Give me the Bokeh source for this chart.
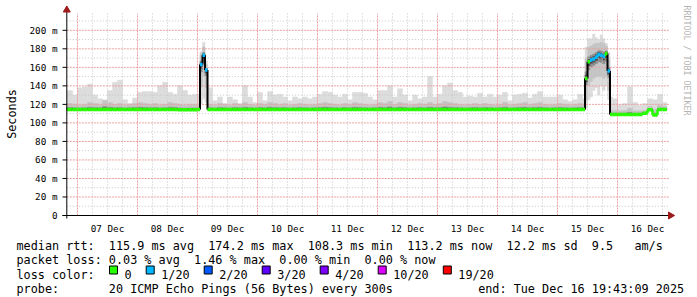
import numpy as np
from bokeh.plotting import figure
from bokeh.models import Range1d
from bokeh.core.properties import value
from bokeh.embed import file_html
from bokeh.resources import INLINE

# ---------------- data ----------------
# time in hours after 07 Dec 2025 00:00
T_START = -4.28    # Sat Dec 06 19:43:09
T_END = 235.72     # Tue Dec 16 19:43:09
bin_edges = np.r_[T_START, np.arange(-2, 48, 2), np.arange(48, 52, 1),
                  np.arange(52, 202, 2), np.arange(202, 214, 1),
                  np.arange(214, 236, 2), T_END]

# ms, one value per bin
rtt_max = [
    135, 130, 138, 139, 142, 130, 126, 125, 135, 144, 146, 125, 121, 127, 133, 134, 134, 133, 140, 144, 133, 131, 140, 135, 130, 131,
    131, 177, 187, 167,
    138, 124, 128, 121, 128, 125, 121, 140, 128, 122, 133, 124, 134, 130, 131, 128, 124, 128, 126, 128, 126,
    128, 131, 134, 133, 130, 128, 131, 125, 133, 133, 132, 128, 125, 135, 135, 140, 128, 137, 130, 124, 130, 126, 128, 150,
    128, 131, 140, 143, 135, 133, 128, 129, 128, 132, 128, 131, 128, 130, 133, 124, 130, 131, 132, 127, 131, 134, 128, 128,
    128, 130, 125, 123, 125, 131,
    126, 182, 191, 191, 196, 192, 190, 195, 191, 186, 176, 128,
    126, 120, 121, 139, 122, 119, 121, 126, 125, 131, 122,
]
rtt_hi = [
    121, 120, 119, 120, 122, 121, 120, 124, 122, 120, 121, 119, 120, 121, 122, 121, 120, 121, 119, 120, 122, 121, 120, 119, 120, 120,
    119, 175, 182, 163,
    120, 119, 121, 120, 119, 121, 120, 122, 120, 119, 121, 120, 122, 121, 120, 121, 119, 120, 121, 120, 119,
    120, 121, 122, 121, 120, 119, 121, 120, 122, 121, 120, 119, 120, 122, 121, 123, 120, 122, 121, 119, 120, 121, 120, 122,
    120, 121, 123, 122, 121, 120, 119, 120, 121, 120, 121, 120, 119, 120, 122, 119, 120, 121, 122, 120, 121, 122, 120, 119,
    120, 121, 120, 119, 120, 121,
    119, 170, 182, 183, 185, 186, 186, 187, 186, 183, 168, 114,
    113.5, 113, 113.5, 116, 113, 113, 113.5, 118, 115, 119, 118,
]
rtt_median = [
    114.5, 114.5, 114.5, 114.5, 114.5, 114.5, 114.5, 114.5, 114.5, 114.5, 114.5, 114.5, 114.5,
    114.5, 114.5, 114.5, 114.5, 114.5, 114.5, 114.5, 114.5, 114.5, 114.3, 114.2, 114.2, 114.2,
    114.5, 163, 173, 157,
    114.5, 114.5, 114.5, 114.5, 114.5, 114.5, 114.5, 114.5, 114.5, 114.5, 114.5, 114.5, 114.5, 114.5, 114.5,
    114.5, 114.5, 114.5, 114.5, 114.5, 114.5, 114.5, 114.5, 114.5, 114.5, 114.5, 114.5, 114.5, 114.5, 114.5,
    114.5, 114.5, 114.5, 114.5, 114.5, 114.5, 114.5, 114.5, 114.5, 114.5, 114.5, 114.5, 114.5, 114.5, 114.5,
    114.5, 114.5, 114.5, 114.5, 114.5, 114.5, 114.5, 114.5, 114.5, 114.5, 114.5, 114.5, 114.5, 114.5, 114.5,
    114.5, 114.5, 114.5, 114.5, 114.5, 114.5, 114.5, 114.5, 114.5, 114.5, 114.5, 114.5, 114.5, 114.5, 114.5,
    114.5, 148, 166, 168, 169, 171, 174, 173, 172, 175, 156, 109.2,
    109.2, 109.2, 109.2, 109.2, 109.2, 109.2, 110.5, 114.3, 108.5, 114.5, 114.5,
]
rtt_lo = [
    113.8, 113.8, 113.8, 113.8, 113.8, 113.8, 113.8, 113.8, 113.8, 113.8, 113.8, 113.8, 113.8,
    113.8, 113.8, 113.8, 113.8, 113.8, 113.8, 113.8, 113.8, 113.8, 113.6, 113.5, 113.5, 113.5,
    113.8, 139, 150, 138,
    113.8, 113.8, 113.8, 113.8, 113.8, 113.8, 113.8, 113.8, 113.8, 113.8, 113.8, 113.8, 113.8, 113.8, 113.8,
    113.8, 113.8, 113.8, 113.8, 113.8, 113.8, 113.8, 113.8, 113.8, 113.8, 113.8, 113.8, 113.8, 113.8, 113.8,
    113.8, 113.8, 113.8, 113.8, 113.8, 113.8, 113.8, 113.8, 113.8, 113.8, 113.8, 113.8, 113.8, 113.8, 113.8,
    113.8, 113.8, 113.8, 113.8, 113.8, 113.8, 113.8, 113.8, 113.8, 113.8, 113.8, 113.8, 113.8, 113.8, 113.8,
    113.8, 113.8, 113.8, 113.8, 113.8, 113.8, 113.8, 113.8, 113.8, 113.8, 113.8, 113.8, 113.8, 113.8, 113.8,
    113.8, 125, 140, 145, 148, 150, 150, 150, 148, 150, 135, 108.8,
    108.8, 108.8, 108.8, 108.8, 108.8, 108.8, 109.5, 113.6, 108.2, 113.8, 113.8,
]
rtt_min = [
    113.2, 113.2, 113.2, 113.2, 113.2, 113.2, 113.2, 113.2, 113.2, 113.2, 113.2, 113.2, 113.2,
    113.2, 113.2, 113.2, 113.2, 113.2, 113.2, 113.2, 113.2, 113.2, 113.0, 112.9, 112.9, 112.9,
    113.2, 121, 126, 122,
    113.2, 113.2, 113.2, 113.2, 113.2, 113.2, 113.2, 113.2, 113.2, 113.2, 113.2, 113.2, 113.2, 113.2, 113.2,
    113.2, 113.2, 113.2, 113.2, 113.2, 113.2, 113.2, 113.2, 113.2, 113.2, 113.2, 113.2, 113.2, 113.2, 113.2,
    113.2, 113.2, 113.2, 113.2, 113.2, 113.2, 113.2, 113.2, 113.2, 113.2, 113.2, 113.2, 113.2, 113.2, 113.2,
    113.2, 113.2, 113.2, 113.2, 113.2, 113.2, 113.2, 113.2, 113.2, 113.2, 113.2, 113.2, 113.2, 113.2, 113.2,
    113.2, 113.2, 113.2, 113.2, 113.2, 113.2, 113.2, 113.2, 113.2, 113.2, 113.2, 113.2, 113.2, 113.2, 113.2,
    113.2, 116, 125, 128, 135, 138, 130, 140, 135, 140, 125, 108.5,
    108.5, 108.5, 108.5, 108.5, 108.5, 108.5, 109, 113.2, 107.8, 113.2, 113.2,
]
# lost pings (of 20) per bin
loss = [
    0, 0, 0, 0, 0, 0, 0, 0, 0, 0, 0, 0, 0, 0, 0, 0, 0, 0, 0, 0, 0, 0, 0, 0, 0, 0,
    0, 1, 1, 1,
    0, 0, 0, 0, 0, 0, 0, 0, 0, 0, 0, 0, 0, 0, 0, 0, 0, 0, 0, 0, 0, 0, 0, 0, 0,
    0, 0, 0, 0, 0, 0, 0, 0, 0, 0, 0, 0, 0, 0, 0, 0, 0, 0, 0, 0, 0, 0, 0, 0, 0,
    0, 0, 0, 0, 0, 0, 0, 0, 0, 0, 0, 0, 0, 0, 0, 0, 0, 0, 0, 0, 0, 0, 0, 0, 0,
    0, 0, 0, 1, 1, 1, 1, 1, 1, 0, 1, 0,
    0, 0, 0, 0, 0, 0, 0, 0, 0, 0, 0,
]

day_ticks = [12, 36, 60, 84, 108, 132, 156, 180, 204, 228]
day_labels = ["07 Dec", "08 Dec", "09 Dec", "10 Dec", "11 Dec",
              "12 Dec", "13 Dec", "14 Dec", "15 Dec", "16 Dec"]
y_ticks = [0, 20, 40, 60, 80, 100, 120, 140, 160, 180, 200]
y_labels = ["0", "20 m", "40 m", "60 m", "80 m", "100 m",
            "120 m", "140 m", "160 m", "180 m", "200 m"]

loss_levels = ["0", "1/20", "2/20", "3/20", "4/20", "10/20", "19/20"]
loss_level_colors = ["#26ff00", "#00b8ff", "#0059ff", "#5e00ff", "#7e00ff", "#dd00ff", "#ff0000"]
loss_count_color = {0: "#26ff00", 1: "#00b8ff", 2: "#0059ff", 3: "#5e00ff",
                    4: "#7e00ff", 10: "#dd00ff", 19: "#ff0000"}

legend_lines = [
    "median rtt:  115.9 ms avg  174.2 ms max  108.3 ms min  113.2 ms now  12.2 ms sd  9.5   am/s",
    "packet loss: 0.03 % avg  1.46 % max  0.00 % min  0.00 % now",
    "loss color:",
    "probe:       20 ICMP Echo Pings (56 Bytes) every 300s            end: Tue Dec 16 19:43:09 2025",
]

# ---------------- layout (pixel <-> data) ----------------
W, H = 697, 297
PX_PER_H, X0_PX = 2.5, 77.0        # 07 Dec 00:00 at pixel 77
PX_PER_MS, Y0_PX = 0.926, 215.0    # 0 ms at pixel 215


def hx(px):
    return (px - X0_PX) / PX_PER_H


def vy(py):
    return (Y0_PX - py) / PX_PER_MS


MONO = "DejaVu Sans Mono"
NBSP = "\u00a0"
Y_TOP = vy(13)        # top of plotting area
X_RIGHT = hx(669)     # right end of horizontal grid

p = figure(width=W, height=H, x_range=Range1d(hx(0), hx(W)), y_range=Range1d(vy(H), vy(0)),
           output_backend="svg", toolbar_location=None, x_axis_type=None, y_axis_type=None,
           min_border=0, background_fill_color="white", border_fill_color="white")
p.outline_line_color = None
p.grid.visible = False

left = bin_edges[:-1]
right = bin_edges[1:]
med = np.array(rtt_median, dtype=float)
lo = np.array(rtt_lo, dtype=float)
hi = np.array(rtt_hi, dtype=float)

# smoke layers (light -> dark)
p.quad(left=left, right=right, bottom=rtt_min, top=rtt_max,
       fill_color="#dcdcdc", line_color="#dcdcdc", line_width=0.5)
p.quad(left=left, right=right, bottom=lo, top=hi,
       fill_color="#c4c4c4", line_color="#c4c4c4", line_width=0.5)
p.quad(left=left, right=right, bottom=med - (med - lo) / 3, top=med + (hi - med) / 3,
       fill_color="#8e8e8e", line_color="#8e8e8e", line_width=0.5)
p.quad(left=left, right=right, bottom=med - (med - lo) / 6, top=med + (hi - med) / 6,
       fill_color="#505050", line_color="#505050", line_width=0.5)

# grid
y_minor = list(np.arange(10, 220, 20))
y_major = y_ticks[1:]
midnights = [h for h in range(0, 240, 24) if h <= T_END]
six_hours = [h for h in range(6, 240, 6) if h % 24 != 0 and h <= T_END]
GRAY = "#c6c6c6"
RED = "#eba0a0"
p.segment(x0=[T_START] * len(y_minor), x1=[X_RIGHT] * len(y_minor), y0=y_minor, y1=y_minor,
          line_color=GRAY, line_width=1, line_dash="1 2")
p.segment(x0=six_hours, x1=six_hours, y0=[0] * len(six_hours), y1=[Y_TOP] * len(six_hours),
          line_color=GRAY, line_width=1, line_dash="1 2")
p.segment(x0=[T_START] * len(y_major), x1=[X_RIGHT] * len(y_major), y0=y_major, y1=y_major,
          line_color=RED, line_width=1, line_dash="2 1")
p.segment(x0=midnights, x1=midnights, y0=[0] * len(midnights), y1=[Y_TOP] * len(midnights),
          line_color=RED, line_width=1, line_dash="2 1")

# median line: connectors then horizontal pieces
cx, cy0, cy1, ccol, cw = [], [], [], [], []
for i in range(1, len(med)):
    d = med[i] - med[i - 1]
    if abs(d) > 0.05:
        cx.append(bin_edges[i]); cy0.append(med[i - 1]); cy1.append(med[i])
        big = abs(d) >= 10
        ccol.append("#000000" if big else loss_count_color[loss[i]])
        cw.append(2 if big else 2.5)
p.segment(x0=cx, x1=cx, y0=cy0, y1=cy1, line_color=ccol, line_width=cw)
p.segment(x0=left, x1=right, y0=med, y1=med,
          line_color=[loss_count_color[c] for c in loss], line_width=3.5)

# axis lines, ticks and arrows
AX_RED = "#9e1a1a"
p.segment(x0=[T_START], x1=[T_START], y0=[vy(218)], y1=[vy(11)], line_color="black", line_width=1)
p.segment(x0=[hx(62)], x1=[hx(669)], y0=[0], y1=[0], line_color="black", line_width=1)
p.segment(x0=[hx(62)] * len(y_ticks), x1=[T_START] * len(y_ticks), y0=y_ticks, y1=y_ticks,
          line_color="black", line_width=1)
p.scatter(x=[T_START], y=[vy(9.5)], marker="triangle", size=7,
          fill_color=AX_RED, line_color=AX_RED)
p.scatter(x=[hx(670)], y=[0], marker="triangle", size=7, angle=-np.pi / 2,
          fill_color=AX_RED, line_color=AX_RED)

# tick labels
p.text(x=day_ticks, y=[vy(228.3)] * len(day_ticks), text=day_labels, text_font=value(MONO),
       text_font_size="9.3px", text_color="black", text_align="center",
       text_baseline="alphabetic")
p.text(x=[hx(57)] * len(y_ticks), y=y_ticks, text=y_labels, text_font=value(MONO),
       text_font_size="9.3px", text_color="black", text_align="right",
       text_baseline="middle")
p.text(x=[hx(11)], y=[vy(113.5)], text=["Seconds"], angle=np.pi / 2, text_font=value(MONO),
       text_font_size="11.8px", text_color="black", text_align="center",
       text_baseline="middle")

# RRDtool credit
p.text(x=[hx(686)], y=[vy(5)], text=["RRDTOOL / TOBI OETIKER"], angle=-np.pi / 2,
       text_font=value(MONO), text_font_size="8.3px", text_color="#b4b4b4",
       text_align="left", text_baseline="middle")

# ---------------- legend block ----------------
CHAR_W = 7.1
row_base = [245.8 + 14.1 * k for k in range(4)]
p.text(x=[hx(16)] * 4, y=[vy(r) for r in row_base],
       text=[s.replace(" ", NBSP) for s in legend_lines], text_font=value(MONO),
       text_font_size="11.8px", text_color="black", text_align="left",
       text_baseline="alphabetic")

box_px = [109.0]
for lab in loss_levels[:-1]:
    box_px.append(box_px[-1] + 15 + CHAR_W * len(lab) + 14.6)
box_px = np.array(box_px)
p.quad(left=hx(box_px), right=hx(box_px + 8), top=[vy(265.5)] * len(box_px),
       bottom=[vy(273.5)] * len(box_px),
       fill_color=loss_level_colors, line_color="black", line_width=1)
p.text(x=hx(box_px + 15), y=[vy(row_base[2])] * len(box_px), text=loss_levels,
       text_font=value(MONO), text_font_size="11.8px", text_color="black",
       text_align="left", text_baseline="alphabetic")

open("out.html", "w").write(file_html(p, INLINE))
